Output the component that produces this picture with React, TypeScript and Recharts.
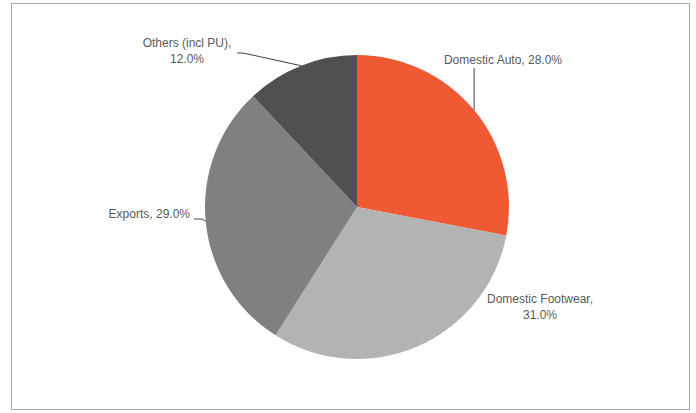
import React from "react";
import { PieChart, Pie, Cell } from "recharts";

const segments = ["Domestic Auto", "Domestic Footwear", "Exports", "Others (incl PU)"];
const shares = [28.0, 31.0, 29.0, 12.0];
const colors = ["#F05A33", "#B3B3B3", "#808080", "#505050"];

// label placement relative to the pie centre (Excel put them by hand)
const labelSpots = [
  { dx: 146, dy: -147, lines: 1, anchor: "middle", leader: [117, -139] },
  { dx: 183, dy: 100, lines: 2, anchor: "middle", leader: null },
  { dx: -167, dy: 7, lines: 1, anchor: "end", leader: [-163, 12] },
  { dx: -170, dy: -156, lines: 2, anchor: "middle", leader: [-120, -154] },
];

const data = segments.map((name, i) => ({ name, value: shares[i] }));

const RAD = Math.PI / 180;

function renderLabel(props: any) {
  const { cx, cy, midAngle, outerRadius, index } = props;
  const spot = labelSpots[index];
  const x = cx + spot.dx;
  const y = cy + spot.dy;
  const ex = cx + outerRadius * Math.cos(-midAngle * RAD);
  const ey = cy + outerRadius * Math.sin(-midAngle * RAD);
  const pct = shares[index].toFixed(1) + "%";
  const txt = { fill: "#595959", fontSize: 12, fontFamily: "Liberation Sans, Arial, sans-serif" };
  let pts = "";
  if (spot.leader) {
    const lx = cx + spot.leader[0];
    const ly = cy + spot.leader[1];
    if (spot.dx > 0) {
      // straight drop onto the slice
      pts = `${ex},${ly} ${ex},${ey}`;
    } else {
      // short horizontal run before the elbow, like Excel does
      const mx = spot.anchor === "end" ? lx + 8 : lx + 6;
      pts = `${lx},${ly} ${mx},${ly} ${ex},${ey}`;
    }
  }
  return (
    <g key={"lbl" + index}>
      {pts && <polyline points={pts} fill="none" stroke="#404040" strokeWidth={1} />}
      {spot.lines === 1 ? (
        <text x={x} y={y} textAnchor={spot.anchor} dominantBaseline="central" {...txt}>
          {segments[index]}, {pct}
        </text>
      ) : (
        <text x={x} y={y} textAnchor={spot.anchor} {...txt}>
          <tspan x={x} dy={-8} dominantBaseline="central">{segments[index]},</tspan>
          <tspan x={x} dy={16} dominantBaseline="central">{pct}</tspan>
        </text>
      )}
    </g>
  );
}

export default function App() {
  return (
    <div style={{ position: "fixed", left: 0, top: 0, width: 696, height: 413, background: "#fff" }}>
      <div
        style={{
          position: "absolute",
          left: 11,
          top: 3,
          width: 679,
          height: 407,
          border: "1px solid #A6A6A6",
          boxSizing: "border-box",
        }}
      />
      <PieChart
        width={696}
        height={413}
        margin={{ top: 0, right: 0, bottom: 0, left: 0 }}
        style={{ position: "absolute", left: 0, top: 0 }}
      >
        <Pie
          data={data}
          dataKey="value"
          nameKey="name"
          cx={357}
          cy={207}
          outerRadius={152}
          startAngle={90}
          endAngle={-270}
          stroke="#fff"
          strokeWidth={0}
          labelLine={false}
          label={renderLabel}
          isAnimationActive={false}
        >
          {data.map((d, i) => (
            <Cell key={d.name} fill={colors[i]} />
          ))}
        </Pie>
      </PieChart>
    </div>
  );
}
